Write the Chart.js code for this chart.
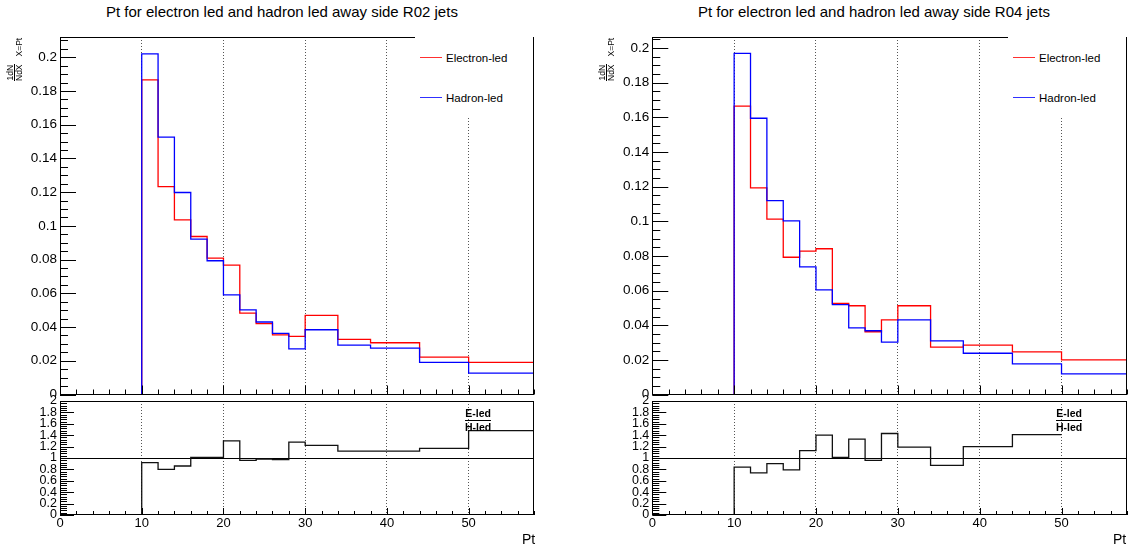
<!DOCTYPE html>
<html>
<head>
<meta charset="utf-8">
<script src="https://cdn.jsdelivr.net/npm/chart.js@4.4.1/dist/chart.umd.min.js"></script>
<style>
  body { margin: 0; width: 1130px; height: 546px; position: relative; overflow: hidden; background: #fff;
         font-family: "Liberation Sans", Arial, Helvetica, sans-serif; color: #000; }
  .pad { position: absolute; }
  .upper { height: 369px; overflow: hidden; }
  .title { position: absolute; top: 4px; font-size: 15px; line-height: 16px; white-space: nowrap; }
  .legbox { position: absolute; top: 30px; width: 118px; height: 87px; background: #fff; }
  .legline { position: absolute; width: 22px; height: 1.4px; }
  .legtxt { position: absolute; font-size: 11.5px; line-height: 14px; white-space: nowrap; }
  .ylab { position: absolute; transform: rotate(-90deg); transform-origin: 0 0; display: flex;
          align-items: flex-end; font-size: 8.5px; line-height: 0.95; white-space: nowrap; }
  .frac { display: inline-flex; flex-direction: column; align-items: center; }
  .frac .den { border-top: 0.8px solid #000; }
  .ylab .sub { margin-left: 8px; }
  .ratlab { position: absolute; display: flex; flex-direction: column; align-items: center;
            font-weight: bold; font-size: 10.5px; line-height: 12.5px; }
  .ratlab .den { border-top: 1px solid #000; }
  .xlab { position: absolute; top: 531px; font-size: 14px; line-height: 16px; }
</style>
</head>
<body>

<div class="title" style="left:106px">Pt for electron led and hadron led away side R02 jets</div>
<div class="title" style="left:698px">Pt for electron led and hadron led away side R04 jets</div>

<div class="pad upper" style="left:0;top:28px"><canvas id="topR02" width="565" height="372"></canvas></div>
<div class="pad" style="left:0;top:391px"><canvas id="ratR02" width="565" height="155"></canvas></div>
<div class="pad upper" style="left:565px;top:28px"><canvas id="topR04" width="565" height="372"></canvas></div>
<div class="pad" style="left:565px;top:391px"><canvas id="ratR04" width="565" height="155"></canvas></div>

<div class="legbox" style="left:415px"></div>
<div class="legline" style="left:420px;top:57px;background:#ff3030"></div>
<div class="legtxt" style="left:446px;top:51px">Electron-led</div>
<div class="legline" style="left:420px;top:97px;background:#3030ff"></div>
<div class="legtxt" style="left:446px;top:91px">Hadron-led</div>

<div class="legbox" style="left:1008px"></div>
<div class="legline" style="left:1013px;top:57px;background:#ff3030"></div>
<div class="legtxt" style="left:1039px;top:51px">Electron-led</div>
<div class="legline" style="left:1013px;top:97px;background:#3030ff"></div>
<div class="legtxt" style="left:1039px;top:91px">Hadron-led</div>

<div class="ylab" style="left:6px;top:81px"><span class="frac"><span>1dN</span><span class="den">NdX</span></span><span class="sub">X=Pt</span></div>
<div class="ylab" style="left:598px;top:81px"><span class="frac"><span>1dN</span><span class="den">NdX</span></span><span class="sub">X=Pt</span></div>

<div class="ratlab" style="left:465px;top:407px"><span>E-led</span><span class="den">H-led</span></div>
<div class="ratlab" style="left:1056px;top:407px"><span>E-led</span><span class="den">H-led</span></div>

<div class="xlab" style="left:522px">Pt</div>
<div class="xlab" style="left:1113px">Pt</div>

<script>
// bin edges in Pt (last bin runs past the axis end at 58)
const binEdges = [10, 12, 14, 16, 18, 20, 22, 24, 26, 28, 30, 34, 38, 44, 50, 58];

// R02 jets
const electronR02 = [0.1866, 0.1233, 0.1036, 0.0937, 0.0809, 0.0767, 0.0483, 0.0420, 0.0353, 0.0345,
  0.0469, 0.0327, 0.0307, 0.0222, 0.0190];
const hadronR02 = [0.2020, 0.1526, 0.1198, 0.0921, 0.0793, 0.0591, 0.0502, 0.0430, 0.0362, 0.0270,
  0.0384, 0.0293, 0.0275, 0.0190, 0.0127];
const ratioR02 = [0.92, 0.80, 0.86, 1.01, 1.01, 1.30, 0.96, 0.98, 0.97, 1.28, 1.22, 1.12, 1.12, 1.17, 1.48];

// R04 jets
const electronR04 = [0.1664, 0.1192, 0.1012, 0.0792, 0.0827, 0.0841, 0.0525, 0.0512, 0.0362, 0.0431,
  0.0512, 0.0273, 0.0285, 0.0246, 0.0200];
const hadronR04 = [0.1968, 0.1594, 0.1119, 0.1002, 0.0737, 0.0604, 0.0519, 0.0385, 0.0368, 0.0302,
  0.0431, 0.0310, 0.0238, 0.0177, 0.0119];
// ratio line stops at 50 in the R04 panel
const ratioR04 = [0.84, 0.74, 0.90, 0.79, 1.13, 1.40, 1.01, 1.33, 0.96, 1.43, 1.19, 0.87, 1.20, 1.41];

const xTickLabels = [0, 10, 20, 30, 40, 50];

// histogram outline: rise from 0 at the first edge, flat across each bin
function histPoints(edges, vals) {
  const pts = [{ x: edges[0], y: 0 }];
  vals.forEach((v, i) => pts.push({ x: edges[i], y: v }));
  pts.push({ x: edges[vals.length], y: vals[vals.length - 1] });
  return pts;
}

function isMultiple(v, step) {
  const q = v / step;
  return Math.abs(q - Math.round(q)) < 1e-6;
}

// keep the chart area exactly where the layout padding puts it
function noEdgePadding(s) {
  s.paddingTop = 0;
  s.paddingBottom = 0;
  s.paddingLeft = 0;
  s.paddingRight = 0;
}

// ROOT-like frame with inward tick marks
const rootFrame = {
  id: "rootFrame",
  afterDraw(chart, args, o) {
    const { ctx, chartArea: a, scales: { x, y } } = chart;
    ctx.save();
    ctx.strokeStyle = "#000";
    ctx.lineWidth = 1;
    ctx.beginPath();
    const ny = Math.floor((y.max - y.min) / o.yMinor + 1e-6);
    for (let i = 0; i <= ny; i++) {
      const v = y.min + i * o.yMinor;
      const py = Math.round(y.getPixelForValue(v)) + 0.5;
      const len = isMultiple(v, o.yMajor) ? o.yMajLen : o.yMinLen;
      ctx.moveTo(a.left, py);
      ctx.lineTo(a.left + len, py);
    }
    const nx = Math.floor((x.max - x.min) / 2 + 1e-6);
    for (let i = 0; i <= nx; i++) {
      const v = x.min + i * 2;
      const px = Math.round(x.getPixelForValue(v)) + 0.5;
      const len = isMultiple(v, 10) ? o.xMajLen : o.xMinLen;
      ctx.moveTo(px, a.bottom);
      ctx.lineTo(px, a.bottom - len);
    }
    ctx.stroke();
    ctx.strokeRect(Math.round(a.left) + 0.5, Math.round(a.top) + 0.5,
      Math.round(a.right - a.left) - 1, Math.round(a.bottom - a.top) - 1);
    ctx.restore();
  },
};

const fmt = (v) => String(Math.round(v * 1000) / 1000);
const xGridColor = (c) => (c.tick && xTickLabels.includes(c.tick.value) && c.tick.value > 0 ? "#555" : "rgba(0,0,0,0)");

function xScale(showLabels) {
  return {
    type: "linear",
    min: 0,
    max: 58,
    afterFit: (s) => { s.height = showLabels ? 31 : 0; noEdgePadding(s); },
    ticks: {
      display: showLabels,
      stepSize: 10,
      includeBounds: false,
      maxRotation: 0,
      padding: 1,
      color: "#000",
      font: { size: 13, family: "'Liberation Sans', Arial" },
      callback: (v) => (xTickLabels.includes(v) ? String(v) : ""),
    },
    grid: { drawTicks: false, color: xGridColor, lineWidth: 1 },
    border: { display: false, dash: [1, 2] },
  };
}

function topChart(id, electron, hadron, yMax, yWidth, padRight) {
  return new Chart(document.getElementById(id), {
    type: "line",
    data: {
      datasets: [
        { label: "Hadron-led", data: histPoints(binEdges, hadron), borderColor: "#0000ff" },
        { label: "Electron-led", data: histPoints(binEdges, electron), borderColor: "#ff0000" },
      ],
    },
    options: {
      responsive: false,
      animation: false,
      events: [],
      parsing: false,
      datasets: { line: { stepped: "before", borderWidth: 1.3, pointRadius: 0, fill: false, tension: 0 } },
      layout: { padding: { top: 9, right: padRight, bottom: 5.5, left: 0 } },
      plugins: {
        legend: { display: false },
        tooltip: { enabled: false },
        rootFrame: { yMinor: 0.005, yMajor: 0.02, yMajLen: 16, yMinLen: 8, xMajLen: 9, xMinLen: 5 },
      },
      scales: {
        x: xScale(false),
        y: {
          min: 0,
          max: yMax,
          afterFit: (s) => { s.width = yWidth; noEdgePadding(s); },
          ticks: {
            stepSize: 0.02,
            includeBounds: false,
            autoSkip: false,
            padding: 3,
            color: "#000",
            font: { size: 13.5, family: "'Liberation Sans', Arial" },
            callback: fmt,
          },
          grid: { display: false, drawTicks: false },
          border: { display: false },
        },
      },
    },
    plugins: [rootFrame],
  });
}

function ratioChart(id, ratio, yWidth, padRight) {
  return new Chart(document.getElementById(id), {
    type: "line",
    data: {
      datasets: [
        { label: "E-led / H-led", data: histPoints(binEdges, ratio), borderColor: "#111" },
      ],
    },
    options: {
      responsive: false,
      animation: false,
      events: [],
      parsing: false,
      datasets: { line: { stepped: "before", borderWidth: 1.3, pointRadius: 0, fill: false, tension: 0 } },
      layout: { padding: { top: 10, right: padRight, bottom: 0, left: 0 } },
      plugins: {
        legend: { display: false },
        tooltip: { enabled: false },
        rootFrame: { yMinor: 0.04, yMajor: 0.2, yMajLen: 14, yMinLen: 7, xMajLen: 7, xMinLen: 4 },
      },
      scales: {
        x: xScale(true),
        y: {
          min: 0,
          max: 2,
          afterFit: (s) => { s.width = yWidth; noEdgePadding(s); },
          ticks: {
            stepSize: 0.2,
            includeBounds: false,
            autoSkip: false,
            padding: 3,
            color: "#000",
            font: { size: 12.5, family: "'Liberation Sans', Arial", lineHeight: 1 },
            callback: fmt,
          },
          grid: {
            drawTicks: false,
            color: (c) => (c.tick && Math.abs(c.tick.value - 1) < 1e-6 ? "#000" : "rgba(0,0,0,0)"),
          },
          border: { display: false },
        },
      },
    },
    plugins: [rootFrame],
  });
}

topChart("topR02", electronR02, hadronR02, 0.212, 60, 31);
ratioChart("ratR02", ratioR02, 60, 31);
topChart("topR04", electronR04, hadronR04, 0.2063, 87.3, 3);
ratioChart("ratR04", ratioR04, 87.3, 3);
</script>
</body>
</html>
